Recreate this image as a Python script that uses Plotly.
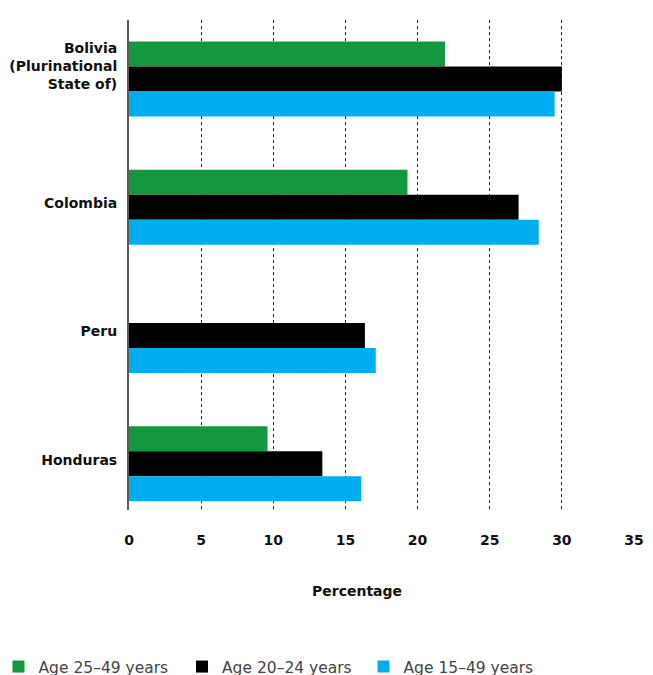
import plotly.graph_objects as go

categories = ["Bolivia<br>(Plurinational<br>State of)<br> ", "Colombia", "Peru", "Honduras"]
series_names = ["Age 25\u201349 years", "Age 20\u201324 years", "Age 15\u201349 years"]
age_25_49 = [21.9, 19.3, None, 9.6]
age_20_24 = [30.0, 27.0, 16.35, 13.4]
age_15_49 = [29.5, 28.4, 17.1, 16.1]
x_ticks = [0, 5, 10, 15, 20, 25, 30, 35]
colors = ["#13983F", "#000000", "#00AEEF"]

FONT = "DejaVu Sans"
W, H = 645, 667          # page body has an 8px margin
OFF = 8

legend_ids = ["legend", "legend2", "legend3"]
legend_sq_centers = [18.5, 202.0, 383.5]   # screen px

fig = go.Figure()
for name, vals, col, lid in zip(series_names, [age_25_49, age_20_24, age_15_49], colors, legend_ids):
    fig.add_trace(go.Bar(
        y=categories, x=vals, name=name, orientation="h",
        marker=dict(color=col, line=dict(width=0)),
        legend=lid,
    ))

def leg(cx):
    x_left = cx - 20 - OFF
    indent = 0
    if x_left < 0:
        indent = x_left
        x_left = 0
    return dict(
        orientation="h", xref="container", yref="container",
        x=x_left / W, y=1 - (667 - OFF) / H,
        xanchor="left", yanchor="middle",
        indentation=indent,
        font=dict(family=FONT, size=15.5, color="#444444"),
        bgcolor="rgba(0,0,0,0)",
    )

fig.update_layout(
    width=W, height=H,
    margin=dict(l=129 - OFF, r=19, t=20 - OFF, b=H - (510 - OFF)),
    paper_bgcolor="white", plot_bgcolor="white",
    barmode="group", bargap=0.416, bargroupgap=0,
    font=dict(family=FONT, color="#222222"),
    showlegend=True,
    legend=leg(legend_sq_centers[0]),
    legend2=leg(legend_sq_centers[1]),
    legend3=leg(legend_sq_centers[2]),
    xaxis=dict(
        range=[0, 35], tickvals=x_ticks, ticktext=[str(v) for v in x_ticks],
        showgrid=True, gridcolor="#222222", griddash="dot", gridwidth=1,
        zeroline=False, showline=False, automargin=False,
        ticks="outside", ticklen=17, tickcolor="rgba(0,0,0,0)",
        tickfont=dict(family=FONT, size=14, color="#111111", weight="bold"),
        fixedrange=True,
    ),
    yaxis=dict(
        type="category", categoryorder="array", categoryarray=categories,
        range=[3.36, -0.46], automargin=False,
        showgrid=False, zeroline=False,
        showline=True, linecolor="#5a5a5a", linewidth=2,
        ticks="outside", ticklen=7, tickcolor="rgba(0,0,0,0)",
        ticklabelshift=4,
        tickfont=dict(family=FONT, size=14, color="#111111", weight="bold"),
    ),
    annotations=[dict(
        text="Percentage", xref="paper", yref="paper",
        x=(357 - 129) / 505, y=-(591 - 510) / 490,
        xanchor="center", yanchor="middle", showarrow=False,
        font=dict(family=FONT, size=14, color="#111111", weight="bold"),
    )],
)

fig.write_html("out.html")
